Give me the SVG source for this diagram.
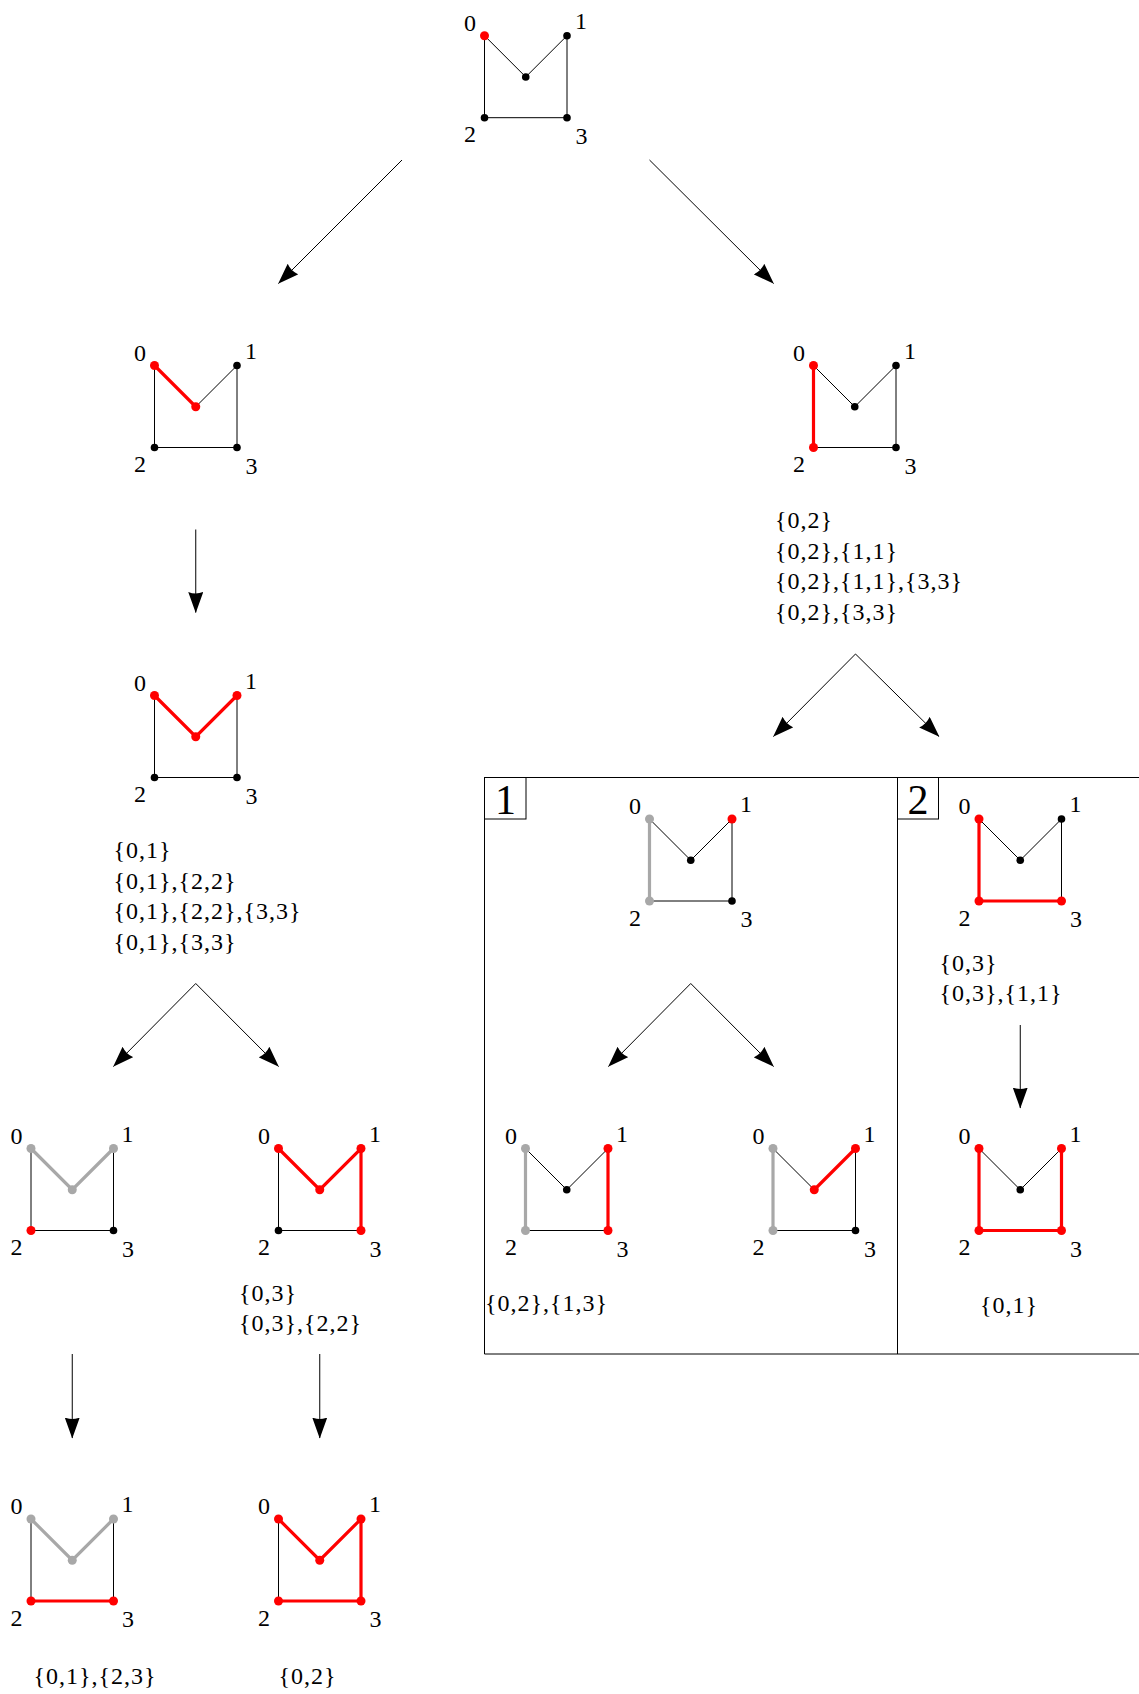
<svg xmlns="http://www.w3.org/2000/svg" width="1139" height="1694" viewBox="0 0 1139 1694">
  <style>
    .thin { stroke: #000; stroke-width: 1; fill: none; }
    .rl { stroke: #ff0000; stroke-width: 3.2; fill: none; stroke-linecap: round; }
    .gl { stroke: #a8a8a8; stroke-width: 3.2; fill: none; stroke-linecap: round; }
    .dk { fill: #000; }
    .rd { fill: #ff0000; }
    .gy { fill: #a8a8a8; }
    .lab { font-family: "Liberation Serif", "Times New Roman", serif; font-size: 24px; fill: #000; text-anchor: middle; }
    .set { font-family: "Liberation Serif", "Times New Roman", serif; font-size: 24px; fill: #000; letter-spacing: 1px; }
    .big { font-family: "Liberation Serif", "Times New Roman", serif; font-size: 42px; fill: #000; text-anchor: middle; }
    .arr { stroke: #000; stroke-width: 1; fill: none; marker-end: url(#tip); }
    .frame { stroke: #000; stroke-width: 1; fill: none; }
  </style>
  <defs>
    <marker id="tip" markerUnits="userSpaceOnUse" viewBox="0 0 21 15" refX="20.5" refY="7.5" markerWidth="21" markerHeight="15" orient="auto">
      <path d="M0,0 Q3,7.5 0,15 L21,7.5 Z" fill="#000"/>
    </marker>
    <!-- vertex labels shared by every graph -->
    <g id="labels">
      <text class="lab" x="-14.5" y="-5">0</text>
      <text class="lab" x="96.5" y="-7">1</text>
      <text class="lab" x="-14.5" y="106.5">2</text>
      <text class="lab" x="97" y="108">3</text>
    </g>
  </defs>

  <!-- frames around the two sub-cases -->
  <g id="frames">
    <path class="frame" d="M484.5,777.5 H1145 M484.5,1354 H1145 M484.5,777.5 V1354 M897.5,777.5 V1354"/>
    <rect class="frame" x="484.5" y="777.5" width="41.5" height="41.5"/>
    <text class="big" x="505.5" y="813.5">1</text>
    <rect class="frame" x="897.5" y="777.5" width="41" height="41.5"/>
    <text class="big" x="918" y="813.5">2</text>
  </g>

  <!-- connectors -->
  <g id="connectors">
    <line class="arr" x1="402" y1="160" x2="278.5" y2="283.5"/>
    <line class="arr" x1="649.5" y1="160" x2="773.5" y2="283.5"/>
    <line class="arr" x1="195.75" y1="529.5" x2="195.75" y2="612.5"/>
    <line class="arr" x1="855.5" y1="654" x2="773.5" y2="736.5"/>
    <line class="arr" x1="855.5" y1="654" x2="939" y2="736.5"/>
    <line class="arr" x1="195.75" y1="983.5" x2="113.5" y2="1066.5"/>
    <line class="arr" x1="195.75" y1="983.5" x2="278.5" y2="1066.5"/>
    <line class="arr" x1="690.75" y1="983.5" x2="608.5" y2="1066.5"/>
    <line class="arr" x1="690.75" y1="983.5" x2="773.5" y2="1066.5"/>
    <line class="arr" x1="1020.25" y1="1025" x2="1020.25" y2="1108"/>
    <line class="arr" x1="72.25" y1="1354" x2="72.25" y2="1438"/>
    <line class="arr" x1="319.75" y1="1354" x2="319.75" y2="1438"/>
  </g>

  <!-- graph nodes: vertices 0 (0,0), 1 (82.5,0), centre (41.25,41.25), 2 (0,82), 3 (82.5,82) -->
  <g id="g-root" transform="translate(484.5,35.7)">
    <path class="thin" d="M0,0 L41.25,41.25 L82.5,0 V82 H0 Z"/>
    <circle class="rd" cx="0" cy="0" r="4.5"/>
    <circle class="dk" cx="82.5" cy="0" r="3.8"/>
    <circle class="dk" cx="41.25" cy="41.25" r="3.8"/>
    <circle class="dk" cx="0" cy="82" r="3.8"/>
    <circle class="dk" cx="82.5" cy="82" r="3.8"/>
    <use href="#labels"/>
  </g>

  <g id="g-left-1" transform="translate(154.5,365.5)">
    <path class="thin" d="M41.25,41.25 L82.5,0 V82 H0 V0"/>
    <path class="rl" d="M0,0 L41.25,41.25"/>
    <circle class="rd" cx="0" cy="0" r="4.5"/>
    <circle class="dk" cx="82.5" cy="0" r="3.8"/>
    <circle class="rd" cx="41.25" cy="41.25" r="4.5"/>
    <circle class="dk" cx="0" cy="82" r="3.8"/>
    <circle class="dk" cx="82.5" cy="82" r="3.8"/>
    <use href="#labels"/>
  </g>

  <g id="g-right-1" transform="translate(813.5,365.5)">
    <path class="thin" d="M0,0 L41.25,41.25 L82.5,0 V82 H0"/>
    <path class="rl" d="M0,0 V82"/>
    <circle class="rd" cx="0" cy="0" r="4.5"/>
    <circle class="dk" cx="82.5" cy="0" r="3.8"/>
    <circle class="dk" cx="41.25" cy="41.25" r="3.8"/>
    <circle class="rd" cx="0" cy="82" r="4.5"/>
    <circle class="dk" cx="82.5" cy="82" r="3.8"/>
    <use href="#labels"/>
    <text class="set" x="-38.5" y="162.5">{0,2}</text>
    <text class="set" x="-38.5" y="193">{0,2},{1,1}</text>
    <text class="set" x="-38.5" y="223.5">{0,2},{1,1},{3,3}</text>
    <text class="set" x="-38.5" y="254">{0,2},{3,3}</text>
  </g>

  <g id="g-left-2" transform="translate(154.5,695.5)">
    <path class="thin" d="M82.5,0 V82 H0 V0"/>
    <path class="rl" d="M0,0 L41.25,41.25 L82.5,0"/>
    <circle class="rd" cx="0" cy="0" r="4.5"/>
    <circle class="rd" cx="82.5" cy="0" r="4.5"/>
    <circle class="rd" cx="41.25" cy="41.25" r="4.5"/>
    <circle class="dk" cx="0" cy="82" r="3.8"/>
    <circle class="dk" cx="82.5" cy="82" r="3.8"/>
    <use href="#labels"/>
    <text class="set" x="-41" y="162.5">{0,1}</text>
    <text class="set" x="-41" y="193">{0,1},{2,2}</text>
    <text class="set" x="-41" y="223.5">{0,1},{2,2},{3,3}</text>
    <text class="set" x="-41" y="254">{0,1},{3,3}</text>
  </g>

  <g id="g-case1-top" transform="translate(649.5,819)">
    <path class="thin" d="M0,0 L41.25,41.25 L82.5,0 V82 H0"/>
    <path class="gl" d="M0,0 V82"/>
    <circle class="gy" cx="0" cy="0" r="4.5"/>
    <circle class="rd" cx="82.5" cy="0" r="4.5"/>
    <circle class="dk" cx="41.25" cy="41.25" r="3.8"/>
    <circle class="gy" cx="0" cy="82" r="4.5"/>
    <circle class="dk" cx="82.5" cy="82" r="3.8"/>
    <use href="#labels"/>
  </g>

  <g id="g-case2-top" transform="translate(979,819)">
    <path class="thin" d="M0,0 L41.25,41.25 L82.5,0 V82"/>
    <path class="rl" d="M0,0 V82 H82.5"/>
    <circle class="rd" cx="0" cy="0" r="4.5"/>
    <circle class="dk" cx="82.5" cy="0" r="3.8"/>
    <circle class="dk" cx="41.25" cy="41.25" r="3.8"/>
    <circle class="rd" cx="0" cy="82" r="4.5"/>
    <circle class="rd" cx="82.5" cy="82" r="4.5"/>
    <use href="#labels"/>
    <text class="set" x="-39.5" y="151.5">{0,3}</text>
    <text class="set" x="-39.5" y="182">{0,3},{1,1}</text>
  </g>

  <g id="g-left-3a" transform="translate(31,1148.5)">
    <path class="thin" d="M82.5,0 V82 H0 V0"/>
    <path class="gl" d="M0,0 L41.25,41.25 L82.5,0"/>
    <circle class="gy" cx="0" cy="0" r="4.5"/>
    <circle class="gy" cx="82.5" cy="0" r="4.5"/>
    <circle class="gy" cx="41.25" cy="41.25" r="4.5"/>
    <circle class="rd" cx="0" cy="82" r="4.5"/>
    <circle class="dk" cx="82.5" cy="82" r="3.8"/>
    <use href="#labels"/>
  </g>

  <g id="g-left-3b" transform="translate(278.5,1148.5)">
    <path class="thin" d="M0,0 V82 H82.5"/>
    <path class="rl" d="M0,0 L41.25,41.25 L82.5,0 V82"/>
    <circle class="rd" cx="0" cy="0" r="4.5"/>
    <circle class="rd" cx="82.5" cy="0" r="4.5"/>
    <circle class="rd" cx="41.25" cy="41.25" r="4.5"/>
    <circle class="dk" cx="0" cy="82" r="3.8"/>
    <circle class="rd" cx="82.5" cy="82" r="4.5"/>
    <use href="#labels"/>
    <text class="set" x="-39.5" y="152">{0,3}</text>
    <text class="set" x="-39.5" y="182.5">{0,3},{2,2}</text>
  </g>

  <g id="g-case1-a" transform="translate(525.5,1148.5)">
    <path class="thin" d="M0,0 L41.25,41.25 L82.5,0 M0,82 H82.5"/>
    <path class="gl" d="M0,0 V82"/>
    <path class="rl" d="M82.5,0 V82"/>
    <circle class="gy" cx="0" cy="0" r="4.5"/>
    <circle class="rd" cx="82.5" cy="0" r="4.5"/>
    <circle class="dk" cx="41.25" cy="41.25" r="3.8"/>
    <circle class="gy" cx="0" cy="82" r="4.5"/>
    <circle class="rd" cx="82.5" cy="82" r="4.5"/>
    <use href="#labels"/>
    <text class="set" x="-40.5" y="162">{0,2},{1,3}</text>
  </g>

  <g id="g-case1-b" transform="translate(773,1148.5)">
    <path class="thin" d="M0,0 L41.25,41.25 M82.5,0 V82 H0"/>
    <path class="gl" d="M0,0 V82"/>
    <path class="rl" d="M41.25,41.25 L82.5,0"/>
    <circle class="gy" cx="0" cy="0" r="4.5"/>
    <circle class="rd" cx="82.5" cy="0" r="4.5"/>
    <circle class="rd" cx="41.25" cy="41.25" r="4.5"/>
    <circle class="gy" cx="0" cy="82" r="4.5"/>
    <circle class="dk" cx="82.5" cy="82" r="3.8"/>
    <use href="#labels"/>
  </g>

  <g id="g-case2-b" transform="translate(979,1148.5)">
    <path class="thin" d="M0,0 L41.25,41.25 L82.5,0"/>
    <path class="rl" d="M0,0 V82 H82.5 V0"/>
    <circle class="rd" cx="0" cy="0" r="4.5"/>
    <circle class="rd" cx="82.5" cy="0" r="4.5"/>
    <circle class="dk" cx="41.25" cy="41.25" r="3.8"/>
    <circle class="rd" cx="0" cy="82" r="4.5"/>
    <circle class="rd" cx="82.5" cy="82" r="4.5"/>
    <use href="#labels"/>
    <text class="set" x="1" y="164">{0,1}</text>
  </g>

  <g id="g-left-4a" transform="translate(31,1519)">
    <path class="thin" d="M0,0 V82 M82.5,0 V82"/>
    <path class="gl" d="M0,0 L41.25,41.25 L82.5,0"/>
    <path class="rl" d="M0,82 H82.5"/>
    <circle class="gy" cx="0" cy="0" r="4.5"/>
    <circle class="gy" cx="82.5" cy="0" r="4.5"/>
    <circle class="gy" cx="41.25" cy="41.25" r="4.5"/>
    <circle class="rd" cx="0" cy="82" r="4.5"/>
    <circle class="rd" cx="82.5" cy="82" r="4.5"/>
    <use href="#labels"/>
    <text class="set" x="2.5" y="164.5">{0,1},{2,3}</text>
  </g>

  <g id="g-left-4b" transform="translate(278.5,1519)">
    <path class="thin" d="M0,0 V82"/>
    <path class="rl" d="M0,0 L41.25,41.25 L82.5,0 V82 H0"/>
    <circle class="rd" cx="0" cy="0" r="4.5"/>
    <circle class="rd" cx="82.5" cy="0" r="4.5"/>
    <circle class="rd" cx="41.25" cy="41.25" r="4.5"/>
    <circle class="rd" cx="0" cy="82" r="4.5"/>
    <circle class="rd" cx="82.5" cy="82" r="4.5"/>
    <use href="#labels"/>
    <text class="set" x="0" y="164.5">{0,2}</text>
  </g>
</svg>
